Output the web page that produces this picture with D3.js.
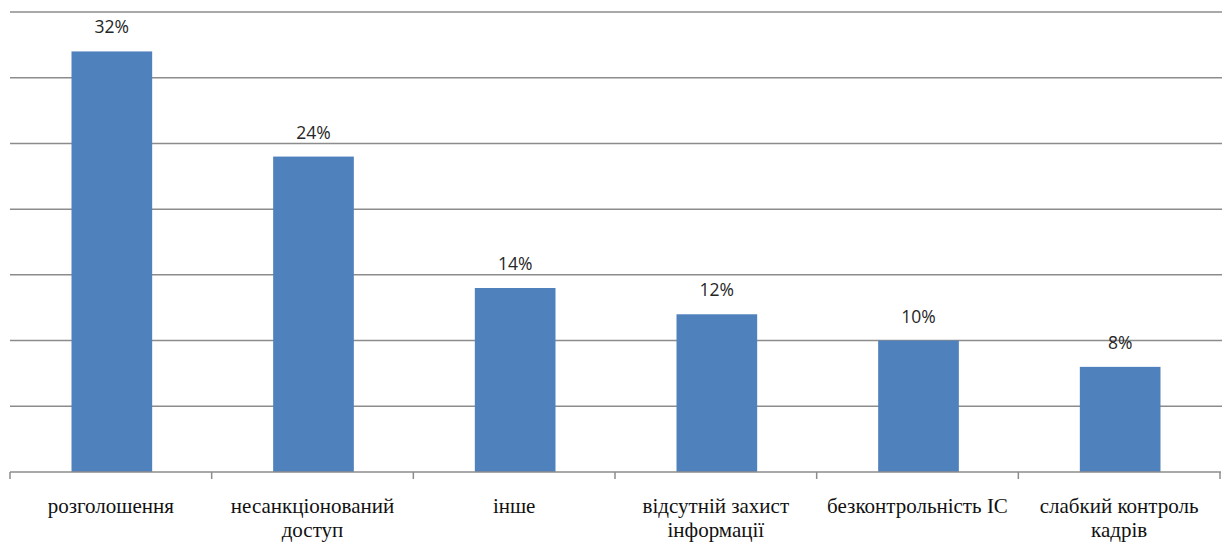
<!DOCTYPE html>
<html>
<head>
<meta charset="utf-8">
<script src="https://cdn.jsdelivr.net/npm/d3@7"></script>
<style>
  html, body { margin: 0; padding: 0; background: #fff; }
  svg { display: block; }
</style>
</head>
<body>
<svg id="chart" width="1224" height="543"></svg>
<script>
// Categories (each entry is a list of label lines) and their shares in percent
const categories = [
  ["розголошення"],
  ["несанкціонований", "доступ"],
  ["інше"],
  ["відсутній захист", "інформації"],
  ["безконтрольність ІС"],
  ["слабкий контроль", "кадрів"]
];
const values = [32, 24, 14, 12, 10, 8];
const gridTicks = [0, 5, 10, 15, 20, 25, 30, 35];

const svg = d3.select("#chart");
const plotLeft = 10, plotRight = 1220, plotTop = 12, plotBottom = 472;

const x = d3.scaleBand()
  .domain(categories.map((d, i) => i))
  .range([plotLeft, plotRight])
  .paddingInner(0.6)
  .paddingOuter(0.3);

const xOuter = d3.scaleBand()
  .domain(categories.map((d, i) => i))
  .range([plotLeft, plotRight]);

const y = d3.scaleLinear().domain([0, 35]).range([plotBottom, plotTop]);

// horizontal gridlines
svg.append("g")
  .selectAll("line")
  .data(gridTicks.filter(t => t > 0))
  .join("line")
  .attr("x1", plotLeft)
  .attr("x2", plotRight + 2)
  .attr("y1", d => y(d))
  .attr("y2", d => y(d))
  .attr("stroke", "#8c8c8c")
  .attr("stroke-width", 1.5);

// bars
svg.append("g")
  .selectAll("rect")
  .data(values)
  .join("rect")
  .attr("x", (d, i) => x(i) + 1)
  .attr("width", x.bandwidth())
  .attr("y", d => y(d))
  .attr("height", d => y(0) - y(d))
  .attr("fill", "#4f81bd");

// value labels
svg.append("g")
  .selectAll("text")
  .data(values)
  .join("text")
  .attr("x", (d, i) => x(i) + 1 + x.bandwidth() / 2)
  .attr("y", d => y(d) - 18)
  .attr("text-anchor", "middle")
  .attr("font-family", "'Open Sans', 'Liberation Sans', sans-serif")
  .attr("font-size", 17.5)
  .attr("fill", "#262626")
  .text(d => d + "%");

// category axis line and tick marks at band boundaries
const axis = svg.append("g");
axis.append("line")
  .attr("x1", plotLeft).attr("x2", plotRight + 1)
  .attr("y1", plotBottom).attr("y2", plotBottom)
  .attr("stroke", "#8c8c8c").attr("stroke-width", 1.5);
const boundaries = categories.map((d, i) => xOuter(i)).concat([plotRight]);
axis.selectAll("line.tick")
  .data(boundaries)
  .join("line")
  .attr("class", "tick")
  .attr("x1", d => d).attr("x2", d => d)
  .attr("y1", plotBottom).attr("y2", plotBottom + 7)
  .attr("stroke", "#8c8c8c").attr("stroke-width", 1.5);

// category labels
const labels = svg.append("g")
  .selectAll("text")
  .data(categories)
  .join("text")
  .attr("x", (d, i) => xOuter(i) + xOuter.bandwidth() / 2)
  .attr("y", 513)
  .attr("text-anchor", "middle")
  .attr("font-family", "'Liberation Serif', 'Times New Roman', serif")
  .attr("font-size", 21)
  .attr("fill", "#111");
labels.selectAll("tspan")
  .data(d => d)
  .join("tspan")
  .attr("x", function () { return d3.select(this.parentNode).attr("x"); })
  .attr("dy", (d, i) => i === 0 ? 0 : 24)
  .text(d => d);
</script>
</body>
</html>
